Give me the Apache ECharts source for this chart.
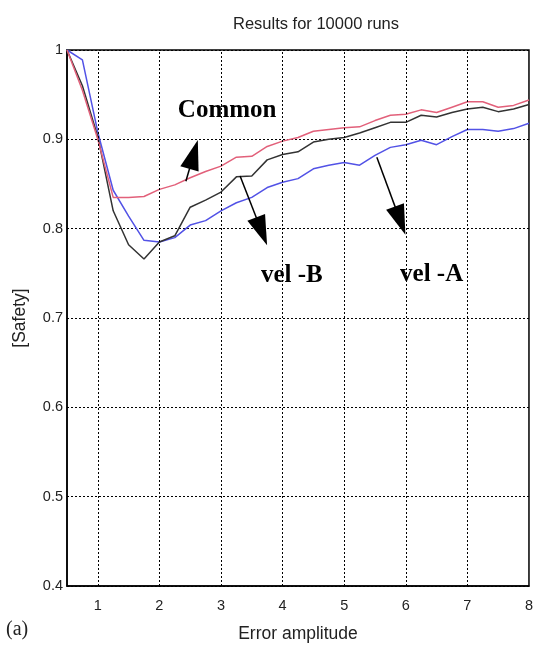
<!DOCTYPE html>
<html><head><meta charset="utf-8">
<script src="https://cdn.jsdelivr.net/npm/echarts@6/dist/echarts.min.js"></script>
<style>html,body{margin:0;padding:0;background:#fff}#c{width:536px;height:648px}</style>
</head><body><div id="c"></div>
<script>
const xValues = [0.5,0.75,1,1.25,1.5,1.75,2,2.25,2.5,2.75,3,3.25,3.5,3.75,4,4.25,4.5,4.75,5,5.25,5.5,5.75,6,6.25,6.5,6.75,7,7.25,7.5,7.75,8];
const common = [1.0,0.955,0.9,0.835,0.835,0.836,0.844,0.849,0.857,0.864,0.87,0.88,0.881,0.892,0.898,0.902,0.909,0.911,0.913,0.914,0.921,0.927,0.928,0.933,0.93,0.936,0.942,0.942,0.936,0.938,0.944];
const velB = [1.0,0.96,0.903,0.82,0.782,0.766,0.785,0.792,0.824,0.832,0.841,0.858,0.859,0.877,0.883,0.886,0.897,0.9,0.902,0.907,0.913,0.919,0.919,0.927,0.925,0.93,0.934,0.936,0.931,0.934,0.939];
const velA = [1.0,0.989,0.908,0.843,0.814,0.787,0.785,0.79,0.804,0.809,0.82,0.829,0.835,0.846,0.852,0.856,0.867,0.871,0.874,0.871,0.882,0.891,0.894,0.899,0.894,0.903,0.911,0.911,0.909,0.912,0.918];
const yTicks = [0.4,0.5,0.6,0.7,0.8,0.9,1];
const xTicks = [1,2,3,4,5,6,7,8];
const labels = [
  {text:'Common', x:3.10, y:0.932},
  {text:'vel -B', x:4.15, y:0.748},
  {text:'vel -A', x:6.42, y:0.749}
];
const arrows = [
  [[2.43,0.853],[2.556,0.883]],
  [[3.31,0.859],[3.66,0.797]],
  [[5.53,0.880],[5.91,0.809]]
];

const pair = arr => xValues.map((x,i)=>[x,arr[i]]);
const chart = echarts.init(document.getElementById('c'), null, {renderer:'canvas'});
const sans = '"Liberation Sans", Arial, sans-serif';
const axisFont = {fontFamily:sans, fontSize:14.5, color:'#222'};
chart.setOption({
  backgroundColor:'#fff',
  animation:false,
  title:{text:'Results for 10000 runs', left:311, textAlign:'center', top:11,
    textStyle:{fontFamily:sans, fontSize:16.5, fontWeight:'normal', color:'#222'}},
  grid:{left:67, right:2, top:50, bottom:59, show:true, borderColor:'#000', borderWidth:1.5, backgroundColor:'transparent'},
  xAxis:{type:'value', min:0.5, max:8, interval:0.5,
    axisLine:{show:true, onZero:false, lineStyle:{color:'#000', width:1.5}},
    axisTick:{show:false},
    axisLabel:{...axisFont, margin:12, formatter:v=>xTicks.includes(v)?String(v):''},
    splitLine:{show:false},
    name:'Error amplitude', nameLocation:'middle', nameGap:39,
    nameTextStyle:{fontFamily:sans, fontSize:17.5, color:'#222'}},
  yAxis:{type:'value', min:0.4, max:1, interval:0.1,
    axisLine:{show:true, onZero:false, lineStyle:{color:'#000', width:1.5}},
    axisTick:{show:false},
    axisLabel:{...axisFont, margin:4, formatter:v=>String(Math.round(v*10)/10)},
    splitLine:{show:true, lineStyle:{color:'#000', type:[2,2], width:1}},
    name:'[Safety]', nameLocation:'middle', nameGap:38, nameRotate:90,
    nameTextStyle:{fontFamily:sans, fontSize:17.5, color:'#222'}},
  series:[
    {name:'grid', type:'line', data:[], silent:true,
     markLine:{silent:true, symbol:['none','none'], label:{show:false}, animation:false,
       lineStyle:{color:'#000', type:[2,2], width:1},
       data:xTicks.filter(v=>v<8).map(v=>({xAxis:v}))}},
    {name:'vel-A', type:'line', data:pair(velA), showSymbol:false, lineStyle:{color:'#5252e6', width:1.5}, itemStyle:{color:'#5252e6'}},
    {name:'vel-B', type:'line', data:pair(velB), showSymbol:false, lineStyle:{color:'#333', width:1.5}, itemStyle:{color:'#333'}},
    {name:'Common', type:'line', data:pair(common), showSymbol:false, lineStyle:{color:'#e2607a', width:1.5}, itemStyle:{color:'#e2607a'},
     markLine:{silent:true, symbol:['none','triangle'], symbolSize:[19,30],
       lineStyle:{color:'#000', type:'solid', width:1.5}, itemStyle:{color:'#000'}, label:{show:false},
       data:arrows.map(a=>[{coord:a[0]},{coord:a[1]}])},
     markPoint:{silent:true, symbol:'rect', symbolSize:1, itemStyle:{color:'rgba(0,0,0,0)'},
       label:{show:true, position:'inside', fontFamily:'"Liberation Serif", serif', fontWeight:'bold', fontSize:25, color:'#000',
         formatter:p=>p.name},
       data:labels.map(l=>({name:l.text, coord:[l.x,l.y]}))}}
  ],
  graphic:[{type:'text', left:6, top:620, style:{text:'(a)', font:'20px "Liberation Serif"', fill:'#222'}}]
});
</script></body></html>
